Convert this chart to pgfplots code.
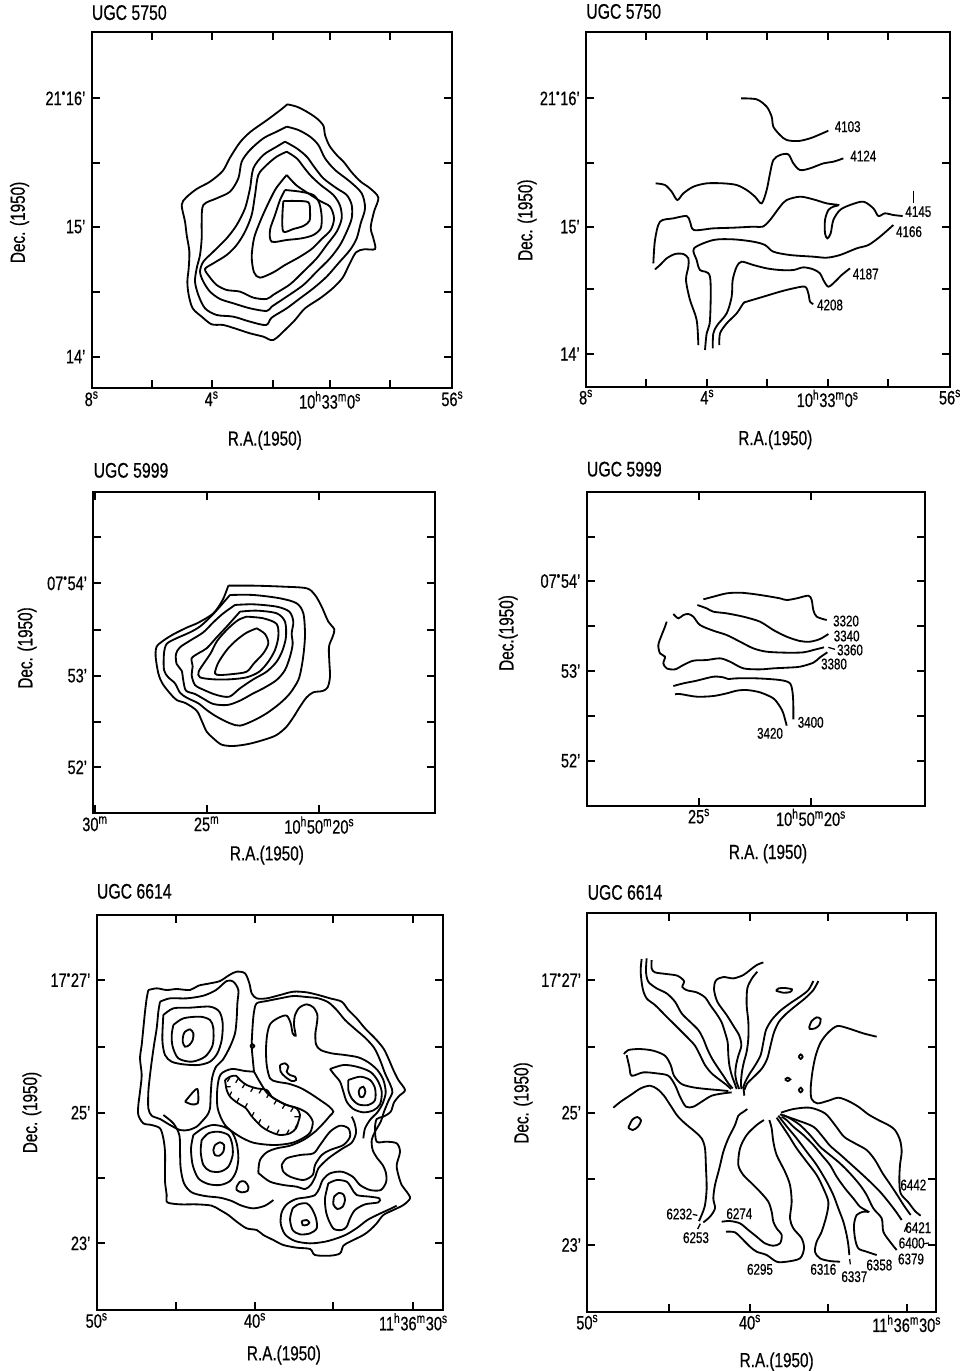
\documentclass[border=0pt]{standalone}
\usepackage{pgfplots}
\pgfplotsset{compat=1.18}
\usepackage{fontspec}
\setmainfont{Liberation Sans}[FakeStretch=0.75, FakeBold=0.6]

\newcommand\dg{\textsuperscript{\textbullet}}
\newcommand\sx[1]{\textsuperscript{#1}}
\newcommand\tickfont{\fontsize{13.8}{15}\selectfont}
\newcommand\labfont{\fontsize{11}{12}\selectfont}
\newcommand\titfont{\fontsize{15}{17}\selectfont}
\newcommand\axfont{\fontsize{14.5}{16}\selectfont}

\pgfplotsset{
  chart/.style={scale only axis, y dir=reverse, clip=false,
    axis line style={line width=1.3pt},
    tick style={black, line width=1.3pt}, major tick length=0.2cm, tick align=inside,
    xticklabel style={font=\tickfont, inner sep=2pt},
    yticklabel style={font=\tickfont, inner sep=2pt, xshift=-0.08cm},
    label style={font=\axfont},
    title style={font=\titfont, anchor=base west, inner sep=0pt, at={(axis description cs:0,1)}},
    xlabel={R.A.(1950)}, ylabel={Dec. (1950)}},
  cl/.style={black, line width=1.3pt, smooth, mark=none},
  ld/.style={black, line width=0.9pt, mark=none},
}

\begin{document}
\begin{tikzpicture}
\path[use as bounding box] (0,0) rectangle (24.075cm,-34.275cm);

% ---------------- UGC 5750, intensity ----------------
\begin{axis}[chart, at={(2.292cm,-9.708cm)}, anchor=south west, width=9.017cm, height=8.9cm,
  xmin=-235, xmax=847, ymin=-188, ymax=880,
  xtick={-235,-55,125,308,480,660,847},
  xticklabels={8\sx{s},,4\sx{s},,10\sx{h}33\sx{m}0\sx{s},,56\sx{s}},
  ytick={10,203,395,590,785},
  yticklabels={21\dg16',,15',,14'},
  title={UGC 5750}, title style={yshift=0.1cm},
  xlabel style={at={(axis description cs:0.48,-0.146)}, anchor=center},
  ylabel style={at={(axis description cs:-0.2,0.466)}, anchor=center}]
\addplot[cl] coordinates {(352,28)(380,35)(410,50)(440,70)(460,92)(465,120)(478,152)(500,180)(522,202)(545,232)(572,260)(600,280)(625,308)(612,350)(602,398)(610,430)(615,462)(582,463)(558,472)(538,508)(518,548)(488,580)(450,610)(405,640)(375,675)(350,700)(310,735)(280,725)(240,715)(200,702)(160,690)(125,688)(95,665)(68,640)(56,600)(52,560)(56,520)(58,470)(50,420)(45,380)(35,330)(48,308)(80,282)(120,260)(158,228)(180,188)(210,142)(242,110)(290,76)(330,46)(352,28)};
\addplot[cl] coordinates {(350,95)(385,105)(420,125)(445,150)(465,190)(495,225)(540,260)(575,295)(585,340)(572,385)(560,430)(540,465)(505,505)(470,545)(430,580)(390,610)(350,640)(305,668)(288,690)(240,680)(190,665)(140,660)(105,640)(85,600)(75,560)(80,520)(90,480)(95,430)(95,380)(100,330)(140,310)(180,290)(205,250)(215,200)(240,165)(280,130)(320,110)(350,95)};
\addplot[cl] coordinates {(345,140)(380,160)(410,185)(432,215)(460,250)(500,280)(530,300)(545,330)(545,370)(530,410)(510,450)(480,490)(440,530)(400,570)(350,605)(305,635)(290,648)(240,640)(190,625)(150,612)(120,590)(100,560)(90,530)(100,500)(130,470)(170,430)(200,390)(225,340)(240,280)(250,220)(280,180)(320,155)(345,140)};
\addplot[cl] coordinates {(350,170)(380,190)(400,215)(422,242)(452,270)(490,300)(510,332)(515,370)(500,410)(470,450)(440,490)(400,530)(360,568)(312,598)(290,612)(250,608)(210,590)(170,585)(140,570)(118,545)(105,522)(130,505)(170,480)(200,450)(225,410)(245,360)(255,300)(265,240)(290,210)(320,185)(350,170)};
\addplot[cl] coordinates {(350,240)(378,270)(410,292)(450,318)(480,335)(492,370)(482,405)(455,432)(425,462)(385,488)(345,510)(310,532)(270,548)(252,532)(245,485)(252,430)(268,385)(290,335)(315,285)(335,258)(350,240)};
\addplot[cl] coordinates {(345,285)(390,290)(430,300)(448,325)(455,365)(452,400)(430,420)(395,430)(350,435)(305,440)(300,405)(315,360)(330,315)(345,285)};
\addplot[cl] coordinates {(340,318)(380,318)(415,322)(420,350)(418,378)(400,393)(370,402)(340,410)(337,365)(340,318)};
\end{axis}

% ---------------- UGC 5750, velocity ----------------
\begin{axis}[chart, at={(14.65cm,-9.667cm)}, anchor=south west, width=9.1cm, height=8.858cm,
  xmin=318, xmax=1410, ymin=97, ymax=1160,
  xtick={318,498,682,862,1043,1225,1410},
  xticklabels={8\sx{s},,4\sx{s},,10\sx{h}33\sx{m}0\sx{s},,56\sx{s}},
  ytick={295,488,680,868,1062},
  yticklabels={21\dg16',,15',,14'},
  title={UGC 5750}, title style={yshift=0.13cm},
  xlabel style={at={(axis description cs:0.52,-0.15)}, anchor=center},
  ylabel style={at={(axis description cs:-0.162,0.47)}, anchor=center}]
\addplot[cl] coordinates {(783,295)(830,298)(860,320)(875,350)(880,380)(900,405)(920,420)(955,423)(990,415)(1020,403)(1045,392)};
\addplot[cl] coordinates {(527,550)(555,555)(575,575)(592,600)(610,580)(640,560)(680,550)(730,550)(770,555)(800,570)(825,590)(845,610)(860,570)(870,520)(880,480)(900,465)(925,463)(940,490)(960,510)(990,505)(1030,490)(1060,485)(1090,475)};
\addplot[cl] coordinates {(520,790)(525,720)(540,665)(580,655)(620,648)(630,665)(642,690)(700,685)(760,683)(820,680)(848,680)(870,660)(900,620)(920,600)(960,590)(1000,598)(1040,610)(1075,615)(1060,620)(1045,630)(1035,660)(1035,700)(1042,715)(1052,700)(1060,660)(1080,630)(1110,615)(1150,605)(1180,625)(1195,648)(1215,640)(1240,645)(1268,648)};
\addplot[cl] coordinates {(675,1050)(680,1000)(690,960)(690,830)(660,810)(650,780)(642,745)(700,720)(760,718)(820,725)(855,735)(880,755)(930,765)(1000,770)(1040,773)(1080,765)(1130,745)(1165,735)(1200,710)(1240,675)};
\addplot[cl] coordinates {(655,1035)(650,960)(630,900)(618,840)(625,800)(625,775)(610,762)(585,762)(560,775)(540,795)(525,808)};
\addplot[cl] coordinates {(698,1045)(700,1000)(712,975)(740,940)(755,890)(758,840)(770,800)(785,785)(820,795)(860,805)(900,810)(940,810)(970,802)(1000,808)(1020,820)(1030,840)(1045,860)(1065,845)(1085,825)(1110,805)};
\addplot[cl] coordinates {(718,1035)(720,1000)(740,970)(770,940)(790,910)(800,905)(850,890)(900,875)(940,865)(975,860)(985,880)(990,905)(1000,912)};
\addplot[ld] coordinates {(1300,572)(1300,608)};
\node[font=\labfont] at (axis cs:1103,380) {4103};
\node[font=\labfont] at (axis cs:1150,468) {4124};
\node[font=\labfont] at (axis cs:1315,635) {4145};
\node[font=\labfont] at (axis cs:1287,695) {4166};
\node[font=\labfont] at (axis cs:1157,822) {4187};
\node[font=\labfont] at (axis cs:1050,915) {4208};
\end{axis}

% ---------------- UGC 5999, intensity ----------------
\begin{axis}[chart, at={(2.333cm,-20.333cm)}, anchor=south west, width=8.542cm, height=8.042cm,
  xmin=280, xmax=1305, ymin=155, ymax=1120,
  xtick={285,620,958},
  xticklabels={30\sx{m},25\sx{m},10\sx{h}50\sx{m}20\sx{s}},
  ytick={290,430,570,707,845,982},
  yticklabels={,07\dg54',,53',,52'},
  title={UGC 5999}, title style={yshift=0.14cm},
  xlabel style={at={(axis description cs:0.508,-0.13)}, anchor=center},
  ylabel style={at={(axis description cs:-0.194,0.514)}, anchor=center}]
\addplot[cl] coordinates {(685,437)(760,437)(850,440)(920,445)(945,465)(965,500)(985,545)(1003,568)(998,590)(987,620)(988,665)(990,710)(983,742)(968,753)(940,757)(920,772)(900,800)(880,832)(858,862)(828,886)(790,900)(745,912)(700,918)(665,914)(640,895)(620,875)(605,842)(590,812)(558,790)(530,780)(510,760)(487,730)(475,700)(467,650)(470,620)(490,602)(520,583)(560,563)(595,548)(640,520)(668,480)(685,437)};
\addplot[cl] coordinates {(690,465)(760,465)(840,475)(890,490)(910,520)(915,580)(912,630)(905,680)(895,720)(870,760)(840,790)(800,820)(760,842)(720,857)(690,850)(650,830)(620,810)(595,790)(560,773)(540,758)(525,730)(505,712)(492,690)(492,640)(500,612)(525,597)(570,577)(602,558)(640,522)(690,465)};
\addplot[cl] coordinates {(705,495)(760,493)(830,500)(868,515)(880,545)(875,580)(878,612)(870,650)(855,690)(830,720)(790,745)(760,760)(720,782)(682,795)(640,792)(610,776)(585,762)(558,752)(550,722)(545,692)(530,672)(528,642)(540,622)(570,602)(610,577)(640,547)(670,520)(705,495)};
\addplot[cl] coordinates {(720,515)(770,512)(830,520)(855,545)(858,590)(848,630)(830,665)(800,695)(760,718)(720,745)(688,770)(650,765)(612,750)(585,735)(575,705)(578,680)(575,655)(595,640)(620,625)(650,592)(680,560)(720,515)};
\addplot[cl] coordinates {(740,530)(790,535)(830,552)(835,590)(825,630)(805,665)(778,695)(740,712)(690,718)(640,718)(600,712)(596,695)(615,665)(632,640)(652,602)(685,565)(715,540)(740,530)};
\addplot[cl] coordinates {(770,565)(795,582)(805,610)(790,640)(762,670)(740,695)(700,702)(660,705)(645,700)(655,668)(682,628)(710,600)(740,578)(770,565)};
\end{axis}

% ---------------- UGC 5999, velocity ----------------
\begin{axis}[chart, at={(14.667cm,-20.142cm)}, anchor=south west, width=8.458cm, height=7.85cm,
  xmin=320, xmax=1335, ymin=155, ymax=1097,
  xtick={657,993},
  xticklabels={25\sx{s},10\sx{h}50\sx{m}20\sx{s}},
  ytick={290,423,558,693,828,962},
  yticklabels={,07\dg54',,53',,52'},
  title={UGC 5999}, title style={yshift=0.17cm},
  xlabel={R.A. (1950)}, ylabel={Dec.(1950)},
  xlabel style={at={(axis description cs:0.536,-0.153)}, anchor=center},
  ylabel style={at={(axis description cs:-0.232,0.55)}, anchor=center}]
\addplot[cl] coordinates {(670,478)(700,470)(740,460)(780,458)(820,462)(860,468)(900,475)(920,480)(950,475)(985,467)(995,480)(1000,510)(1010,530)(1040,540)};
\addplot[cl] coordinates {(652,495)(680,505)(700,515)(740,520)(790,530)(840,545)(880,570)(920,590)(960,603)(990,605)(1020,597)(1045,582)};
\addplot[cl] coordinates {(580,522)(595,535)(610,525)(625,522)(640,530)(660,555)(700,572)(740,585)(780,605)(820,625)(860,635)(920,638)(970,637)(1000,630)(1032,622)};
\addplot[cl] coordinates {(560,545)(555,560)(545,585)(535,615)(540,640)(555,650)(550,670)(560,685)(585,688)(610,675)(640,662)(680,660)(720,655)(750,665)(790,685)(840,688)(880,685)(920,683)(960,680)(1000,668)(1020,652)(1042,637)};
\addplot[cl] coordinates {(580,738)(610,730)(650,722)(700,710)(730,712)(745,717)(770,715)(830,715)(900,720)(930,730)(938,760)(940,800)(940,838)};
\addplot[cl] coordinates {(585,763)(600,762)(650,770)(700,768)(740,760)(770,752)(800,750)(840,757)(880,775)(900,800)(910,820)(920,857)};
\addplot[ld] coordinates {(1045,622)(1065,628)};
\node[font=\labfont] at (axis cs:1098,543) {3320};
\node[font=\labfont] at (axis cs:1100,588) {3340};
\node[font=\labfont] at (axis cs:1110,630) {3360};
\node[font=\labfont] at (axis cs:1062,672) {3380};
\node[font=\labfont] at (axis cs:992,847) {3400};
\node[font=\labfont] at (axis cs:870,880) {3420};
\end{axis}

% ---------------- UGC 6614, intensity ----------------
\begin{axis}[chart, at={(2.417cm,-32.75cm)}, anchor=south west, width=8.667cm, height=9.875cm,
  xmin=-100, xmax=940, ymin=-150, ymax=1035,
  xtick={-100,138,375,610,850},
  xticklabels={50\sx{s},,40\sx{s},,11\sx{h}36\sx{m}30\sx{s}},
  ytick={45,245,443,640,835},
  yticklabels={17\dg27',,25',,23'},
  title={UGC 6614}, title style={yshift=0.2cm},
  xlabel style={at={(axis description cs:0.54,-0.114)}, anchor=center},
  ylabel style={at={(axis description cs:-0.187,0.5)}, anchor=center}]
\addplot[cl] coordinates {(55,75)(80,70)(110,75)(140,72)(180,75)(205,62)(240,55)(270,48)(298,30)(320,20)(345,25)(358,55)(365,85)(380,100)(410,100)(450,90)(490,80)(530,82)(565,90)(600,100)(635,110)(655,135)(680,160)(705,190)(735,220)(760,250)(775,280)(790,315)(805,345)(825,375)(808,392)(792,412)(782,440)(760,455)(740,462)(735,490)(740,530)(770,530)(800,535)(810,560)(800,600)(805,630)(815,660)(830,680)(840,700)(820,720)(790,735)(760,750)(740,775)(720,795)(700,810)(660,830)(640,842)(630,865)(600,872)(555,870)(540,852)(500,848)(460,840)(430,825)(400,810)(380,795)(350,790)(320,770)(295,750)(270,735)(245,722)(200,718)(150,718)(112,712)(110,690)(105,650)(105,610)(105,560)(100,520)(90,490)(65,480)(40,475)(25,450)(25,420)(30,380)(35,330)(30,280)(35,240)(40,190)(45,140)(50,100)(55,75)};
\addplot[cl] coordinates {(90,110)(120,100)(170,100)(220,92)(258,75)(290,48)(310,50)(325,75)(322,115)(320,160)(315,205)(300,245)(278,285)(258,305)(246,340)(242,390)(240,430)(232,450)(215,470)(200,485)(175,495)(150,495)(120,480)(90,462)(65,452)(55,430)(55,380)(60,330)(65,290)(72,240)(80,190)(85,140)(90,110)};
\addplot[cl] coordinates {(100,150)(130,130)(180,128)(240,125)(268,140)(278,175)(275,225)(262,265)(240,290)(205,300)(160,298)(125,290)(105,270)(97,225)(100,150)};
\addplot[cl] coordinates {(130,180)(160,160)(210,155)(240,165)(250,190)(248,240)(225,275)(185,290)(145,280)(128,245)(125,210)(130,180)};
\addplot[cl] coordinates {(165,200)(180,193)(190,205)(188,225)(178,240)(165,245)(158,230)(160,210)(165,200)};
\addplot[cl] coordinates {(165,410)(190,380)(202,372)(205,395)(203,415)(185,418)(165,410)};
\addplot[cl] coordinates {(361,243)(367,237)(373,243)(367,249)(361,243)};
\addplot[cl] coordinates {(372,320)(368,280)(365,240)(368,180)(372,140)(380,115)(410,108)(450,100)(490,93)(530,96)(565,100)(595,112)(620,135)(645,165)(675,192)(705,218)(732,248)(750,285)(765,325)(782,362)(787,382)(775,408)(762,440)(752,470)(735,500)(725,525)(728,555)(742,580)(758,600)(768,625)(768,652)(752,675)(720,675)(690,660)(668,635)(635,620)(600,625)(578,645)(568,670)(555,690)(530,697)(498,702)(470,718)(455,742)(452,775)(465,808)(495,828)(540,835)(585,830)(620,820)(650,808)(682,788)(712,765)(745,748)(780,732)(800,722)};
\addplot[cl] coordinates {(372,320)(345,318)(305,312)(272,328)(262,370)(263,430)(285,480)(325,512)(370,533)(430,540)(480,535)(512,523)(540,503)(548,470)(532,445)(505,430)(470,420)(440,405)(412,385)(392,355)(372,320)};
\addplot[cl] coordinates {(700,520)(705,490)(722,462)(742,442)(758,415)(767,382)(760,345)(742,315)(715,292)(685,277)(645,270)(605,265)(572,255)(558,238)(556,205)(560,180)(562,150)(550,127)(530,118)(508,128)(495,150)(492,180)(497,212)(488,205)(482,175)(470,152)(448,157)(422,175)(412,205)(408,250)(410,300)(420,340)(440,350)(475,356)(510,368)(540,385)(570,405)(598,425)(610,440)(600,452)(580,475)(555,500)(520,525)(480,542)(440,550)(410,562)(390,585)(385,620)(390,628)(420,650)(460,660)(500,665)(525,672)(542,660)(556,635)(565,610)(595,580)(635,552)(665,533)(678,503)(673,472)(665,455)};
\addplot[cl] coordinates {(600,312)(640,300)(680,305)(720,320)(742,345)(755,380)(750,418)(730,436)(700,442)(670,432)(650,410)(640,380)(630,350)(612,328)(600,312)};
\addplot[cl] coordinates {(655,345)(690,335)(720,345)(735,370)(735,405)(715,420)(685,418)(665,400)(655,375)(655,345)};
\addplot[cl] coordinates {(690,370)(700,365)(706,380)(700,395)(690,395)(686,380)(690,370)};
\addplot[cl] coordinates {(450,300)(465,295)(475,305)(470,320)(480,330)(495,335)(498,345)(485,348)(465,335)(452,320)(450,300)};
% hatched depression
\addplot[cl] coordinates {(285,345)(300,335)(318,332)(330,345)(350,360)(380,370)(410,375)(425,395)(440,405)(470,420)(500,430)(510,450)(505,470)(498,490)(480,505)(450,510)(420,500)(395,485)(375,465)(362,450)(348,430)(320,412)(300,395)(290,375)(285,345)};
\addplot[ld, unbounded coords=jump] coordinates {(300,337)(292,350) (nan,nan) (325,340)(317,353) (nan,nan) (345,356)(337,369) (nan,nan) (370,367)(362,380) (nan,nan) (395,372)(387,385) (nan,nan) (418,385)(410,398) (nan,nan) (440,405)(432,418) (nan,nan) (465,418)(457,431) (nan,nan) (490,427)(482,440) (nan,nan) (495,490)(502,477) (nan,nan) (470,507)(477,494) (nan,nan) (440,507)(447,494) (nan,nan) (410,495)(417,482) (nan,nan) (385,476)(392,463) (nan,nan) (365,455)(372,442) (nan,nan) (345,428)(352,415) (nan,nan) (320,412)(327,399) (nan,nan) (298,393)(305,380) (nan,nan) (287,365)(302,365) (nan,nan) (508,455)(493,455)};
\addplot[cl] coordinates {(190,510)(183,550)(188,600)(205,640)(235,657)(270,660)(300,648)(318,620)(325,580)(320,535)(305,500)(280,485)(248,480)(218,490)(190,510)};
\addplot[cl] coordinates {(215,525)(212,560)(220,600)(240,618)(270,620)(295,605)(308,570)(306,535)(295,510)(265,500)(235,505)(215,525)};
\addplot[cl] coordinates {(255,540)(270,532)(282,540)(280,560)(268,572)(255,570)(250,555)(255,540)};
\addplot[cl] coordinates {(320,665)(330,650)(345,650)(355,665)(352,678)(335,682)(320,675)(320,665)};
\addplot[cl] coordinates {(455,600)(470,580)(510,570)(550,565)(570,540)(600,500)(630,482)(655,490)(660,515)(640,540)(600,555)(575,570)(555,600)(548,630)(520,645)(480,635)(460,620)(455,600)};
\addplot[cl] coordinates {(100,450)(130,475)(148,510)(150,560)(152,610)(162,655)(185,682)(225,693)(270,698)(305,708)(335,722)(370,730)(405,722)(430,705)};
\addplot[cl] coordinates {(488,730)(505,718)(530,715)(545,730)(558,760)(560,790)(540,805)(510,808)(488,795)(480,762)(488,730)};
\addplot[cl] coordinates {(515,768)(530,765)(538,773)(530,780)(518,780)(515,768)};
\addplot[cl] coordinates {(595,655)(620,645)(650,650)(665,670)(680,690)(720,695)(748,700)(745,712)(705,718)(675,735)(660,760)(650,785)(635,795)(612,792)(598,770)(588,740)(585,700)(595,655)};
\addplot[cl] coordinates {(612,695)(626,684)(640,688)(645,705)(638,725)(622,732)(610,718)(612,695)};
\end{axis}

% ---------------- UGC 6614, velocity ----------------
\begin{axis}[chart, at={(14.683cm,-32.792cm)}, anchor=south west, width=8.717cm, height=9.958cm,
  xmin=-38, xmax=1008, ymin=-125, ymax=1070,
  xtick={-38,208,450,685,920},
  xticklabels={50\sx{s},,40\sx{s},,11\sx{h}36\sx{m}30\sx{s}},
  ytick={75,275,473,673,870},
  yticklabels={17\dg27',,25',,23'},
  title={UGC 6614}, title style={yshift=0.13cm},
  xlabel style={at={(axis description cs:0.543,-0.126)}, anchor=center},
  ylabel style={at={(axis description cs:-0.184,0.524)}, anchor=center}]
\addplot[cl] coordinates {(125,12)(122,50)(128,100)(140,130)(165,150)(190,175)(215,200)(240,225)(265,250)(285,272)(300,300)(315,330)(335,355)(360,375)(380,390)(393,402)};
\addplot[cl] coordinates {(140,10)(138,50)(145,80)(170,100)(200,115)(225,140)(245,175)(270,200)(295,225)(310,252)(322,282)(337,312)(355,340)(372,365)(385,385)(398,400)};
\addplot[cl] coordinates {(155,15)(155,40)(165,52)(200,57)(232,62)(252,78)(247,96)(262,106)(290,112)(315,127)(332,152)(350,177)(365,202)(375,232)(383,262)(385,300)(388,330)(395,360)(404,385)(410,402)};
\addplot[cl] coordinates {(490,22)(470,30)(450,45)(430,60)(400,70)(370,66)(348,76)(342,102)(352,140)(380,180)(400,212)(418,242)(424,272)(415,302)(408,332)(406,360)(411,385)(418,402)};
\addplot[cl] coordinates {(472,50)(456,70)(442,100)(440,150)(445,200)(445,250)(440,290)(432,320)(426,350)(423,380)(424,402)};
\addplot[cl] coordinates {(640,78)(625,105)(600,125)(570,145)(540,168)(515,195)(498,225)(490,262)(482,300)(466,330)(449,356)(436,380)(429,400)};
\addplot[cl] coordinates {(655,78)(640,105)(615,130)(590,150)(560,175)(537,200)(522,232)(512,270)(502,310)(486,340)(462,365)(442,385)(433,405)};
\addplot[ld, line width=1.3pt] coordinates {(430,395)(433,422)};
\addplot[cl] coordinates {(528,107)(536,100)(556,99)(576,103)(570,111)(550,113)(528,107)};
\addplot[cl] coordinates {(628,215)(635,198)(650,187)(662,192)(658,210)(645,220)(630,222)(628,215)};
\addplot[cl] coordinates {(85,518)(97,494)(112,486)(123,496)(114,515)(98,525)(85,518)};
\addplot[cl] coordinates {(596,305)(602,298)(608,305)(602,312)(596,305)};
\addplot[cl] coordinates {(555,373)(563,368)(571,373)(563,378)(555,373)};
\addplot[cl] coordinates {(596,405)(602,398)(608,405)(602,412)(596,405)};
\addplot[cl] coordinates {(72,297)(85,285)(120,282)(160,287)(195,302)(212,330)(222,362)(245,387)(280,397)(320,402)(355,405)(385,408)};
\addplot[cl] coordinates {(80,300)(88,335)(95,362)(130,352)(170,355)(205,362)(225,390)(240,425)(258,455)(280,455)(305,440)(335,422)(370,415)(395,412)};
\addplot[cl] coordinates {(40,458)(62,440)(92,420)(122,400)(150,392)(172,402)(192,422)(212,452)(232,482)(255,505)(285,530)(305,550)(315,580)(318,640)(320,700)(315,750)(305,780)(297,798)};
\addplot[cl] coordinates {(442,462)(428,472)(415,482)(405,510)(385,550)(370,590)(358,640)(345,690)(340,730)(345,760)(330,785)(310,802)};
\addplot[cl] coordinates {(365,800)(390,798)(420,805)(445,825)(470,845)(495,865)(520,872)(540,865)(545,840)(530,820)(520,800)(515,770)(505,740)(480,710)(450,680)(430,660)(415,630)(420,580)(440,540)(470,510)(492,495)};
\addplot[cl] coordinates {(378,830)(405,832)(430,855)(450,875)(470,890)(500,900)(530,920)(560,920)(600,910)(612,880)(605,850)(580,820)(570,790)(575,740)(570,690)(555,650)(530,600)(520,560)(515,520)(508,495)};
\addplot[cl] coordinates {(720,920)(690,918)(660,910)(645,890)(650,860)(665,830)(680,780)(685,740)(670,700)(650,660)(620,620)(590,580)(565,540)(545,510)(530,488)};
\addplot[cl] coordinates {(748,900)(745,870)(740,840)(730,800)(715,760)(700,720)(680,680)(650,630)(620,590)(590,550)(565,520)(545,495)(535,482)};
\addplot[cl] coordinates {(830,900)(800,890)(775,880)(765,850)(762,810)(770,780)(790,770)(805,770)(780,755)(760,730)(735,700)(710,665)(690,630)(665,600)(640,570)(610,540)(580,515)(560,495)(545,485)};
\addplot[cl] coordinates {(890,885)(870,860)(850,830)(845,790)(820,760)(800,720)(780,690)(750,655)(720,625)(690,600)(660,575)(630,540)(600,510)(570,490)(550,480)};
\addplot[cl] coordinates {(905,795)(888,770)(865,740)(840,710)(810,680)(780,652)(750,625)(720,598)(690,572)(668,545)(640,515)(590,495)(540,478)};
\addplot[cl] coordinates {(932,780)(912,752)(893,722)(872,690)(848,655)(825,615)(800,585)(765,565)(732,545)(705,510)(675,475)(630,458)(580,462)(543,473)};
\addplot[cl] coordinates {(830,245)(790,235)(745,220)(712,213)(685,232)(662,262)(647,302)(637,352)(632,402)(635,432)(652,445)(685,437)(715,428)(745,438)(775,455)(805,478)(835,495)(865,510)(885,525)(900,555)(905,590)(900,630)(898,675)(902,715)(925,742)(945,768)(962,782)};
\addplot[ld] coordinates {(278,778)(292,781)};
\addplot[ld] coordinates {(293,822)(301,806)};
\addplot[ld] coordinates {(749,912)(751,928)};
\addplot[ld] coordinates {(913,830)(922,808)};
\addplot[ld] coordinates {(972,866)(987,864)};
\node[font=\labfont] at (axis cs:238,777) {6232};
\node[font=\labfont] at (axis cs:288,848) {6253};
\node[font=\labfont] at (axis cs:418,776) {6274};
\node[font=\labfont] at (axis cs:480,943) {6295};
\node[font=\labfont] at (axis cs:670,943) {6316};
\node[font=\labfont] at (axis cs:763,965) {6337};
\node[font=\labfont] at (axis cs:838,930) {6358};
\node[font=\labfont] at (axis cs:933,912) {6379};
\node[font=\labfont] at (axis cs:935,864) {6400};
\node[font=\labfont] at (axis cs:955,818) {6421};
\node[font=\labfont] at (axis cs:940,690) {6442};
\end{axis}
\end{tikzpicture}
\end{document}
